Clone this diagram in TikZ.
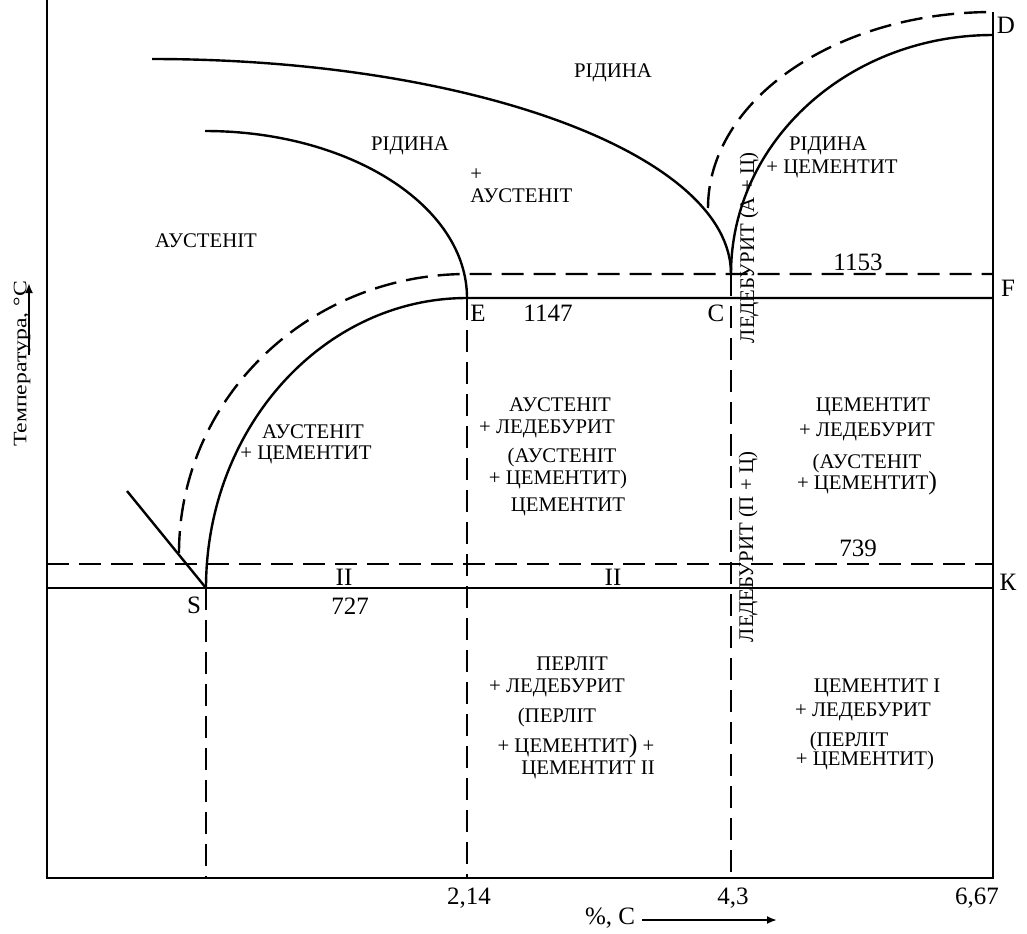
\documentclass[tikz,border=0pt]{standalone}
\usepackage{fontspec}
\setmainfont{Liberation Serif}
\usetikzlibrary{arrows.meta}

\begin{document}
\begin{tikzpicture}[
    x=0.5pt, y=-0.5pt,
    lbl/.style = {inner sep=0pt, font=\fontsize{10.4}{12}\selectfont},
    num/.style = {inner sep=0pt, font=\fontsize{12.5}{14}\selectfont},
    axlbl/.style = {inner sep=0pt, font=\fontsize{9.5}{10}\selectfont},
    line/.style = {line width=1.2pt},
    dashline/.style = {line width=1.2pt, dash pattern=on 11pt off 5pt},
    arr/.style = {-{Latex[length=5pt,width=4pt]}, line width=1pt}
]
\useasboundingbox (0,0) rectangle (1027,933);

% Points of the diagram
\coordinate (S) at (206,588);
\coordinate (E) at (467,298);
\coordinate (C) at (731,274);
\coordinate (D) at (993,35);

% Frame
\draw[line] (47,0) -- (47,878) -- (993,878) -- (993,12);

% Liquidus and solidus curves
\draw[line] (152,59) .. controls (472,59) and (731,155) .. (C);
\draw[line] (205,131) .. controls (350,131) and (467,206) .. (E);
\draw[line] (C) .. controls (731,142) and (848,35) .. (D);
\draw[dashline] (708,208) .. controls (708,100) and (836,12) .. (993,12);

% ES line and eutectic line
\draw[line] (S) .. controls (206,428) and (323,298) .. (E) -- (993,298);
\draw[dashline] (179,553) .. controls (179,399) and (308,274) .. (467,274) -- (993,274);

% Eutectoid line
\draw[line] (47,588) -- (993,588);
\draw[dashline] (47,564) -- (993,564);
\draw[line] (127,491) -- (S);

% Verticals
\draw[dashline] (S) -- (206,878);
\draw[dashline] (E) -- (467,878);
\draw[dashline] (C) -- (731,878);

% Point labels
\node[num] (lD) at (1006,25) {D};
\node[num] (lF) at (1008,288) {F};
\node[num] (lK) at (1008,582) {К};
\node[num] (lE) at (478,313) {E};
\node[num] (lC) at (716,313) {C};
\node[num] (lS) at (194,605) {S};

% Temperatures
\node[num] (t1153) at (858,262) {1153};
\node[num] (t1147) at (548,313) {1147};
\node[num] (t739) at (858,548) {739};
\node[num] (t727) at (350,606) {727};
\node[num] (ii1) at (344,577) {II};
\node[num] (ii2) at (613,577) {II};

% Upper regions
\node[lbl] (liq1) at (613,73) {РІДИНА};
\node[lbl] (liq2) at (410,146) {РІДИНА};
\node[lbl, anchor=west] (plus1) at (470,175) {+};
\node[lbl, anchor=west] (aus1) at (470,196) {АУСТЕНІТ};
\node[lbl] (aus0) at (206,241) {АУСТЕНІТ};
\node[lbl] (liq3) at (828,146) {РІДИНА};
\node[lbl] (cem1) at (832,169) {+ ЦЕМЕНТИТ};
\node[lbl, rotate=90] (ledA) at (749,248) {ЛЕДЕБУРИТ (А + Ц)};

% Middle regions
\node[lbl] (aus2) at (313,432) {АУСТЕНІТ};
\node[lbl] (cem2) at (306,455) {+ ЦЕМЕНТИТ};

\node[lbl] (m1) at (560,405) {АУСТЕНІТ};
\node[lbl] (m2) at (547,429) {+ ЛЕДЕБУРИТ};
\node[lbl] (m3) at (562,457) {(АУСТЕНІТ};
\node[lbl] (m4) at (558,479) {+ ЦЕМЕНТИТ)};
\node[lbl] (m5) at (568,507) {ЦЕМЕНТИТ};

\node[lbl] (r1) at (873,407) {ЦЕМЕНТИТ};
\node[lbl] (r2) at (867,432) {+ ЛЕДЕБУРИТ};
\node[lbl] (r3) at (867,463) {(АУСТЕНІТ};
\node[lbl] (r4) at (867,483) {+ ЦЕМЕНТИТ{\fontsize{13}{13}\selectfont)}};
\node[lbl, rotate=90] (ledP) at (748,547) {ЛЕДЕБУРИТ (П + Ц)};

% Lower regions
\node[lbl] (b1) at (572,664) {ПЕРЛІТ};
\node[lbl] (b2) at (557,688) {+ ЛЕДЕБУРИТ};
\node[lbl] (b3) at (557,717) {(ПЕРЛІТ};
\node[lbl] (b4) at (576,746) {+ ЦЕМЕНТИТ{\fontsize{13}{13}\selectfont)} +};
\node[lbl] (b5) at (588,770) {ЦЕМЕНТИТ II};

\node[lbl] (c1) at (877,688) {ЦЕМЕНТИТ I};
\node[lbl] (c2) at (863,712) {+ ЛЕДЕБУРИТ};
\node[lbl] (c3) at (849,741) {(ПЕРЛІТ};
\node[lbl] (c4) at (865,760) {+ ЦЕМЕНТИТ)};

% Axes labels
\node[num] (x214) at (469,898) {2,14};
\node[num] (x43) at (733,898) {4,3};
\node[num] (x667) at (977,898) {6,67};
\node[num] (xlbl) at (610,918) {\%, C};
\coordinate (xa) at (642,920);
\coordinate (xb) at (777,920);
\draw[arr] (xa) -- (xb);

\node[axlbl, rotate=90] (ylbl) at (22,364) {\scalebox{1.25}[1]{Температура, °С}};
\coordinate (ya) at (29,355);
\coordinate (yb) at (29,283);
\draw[arr] (ya) -- (yb);

\end{tikzpicture}
\end{document}
